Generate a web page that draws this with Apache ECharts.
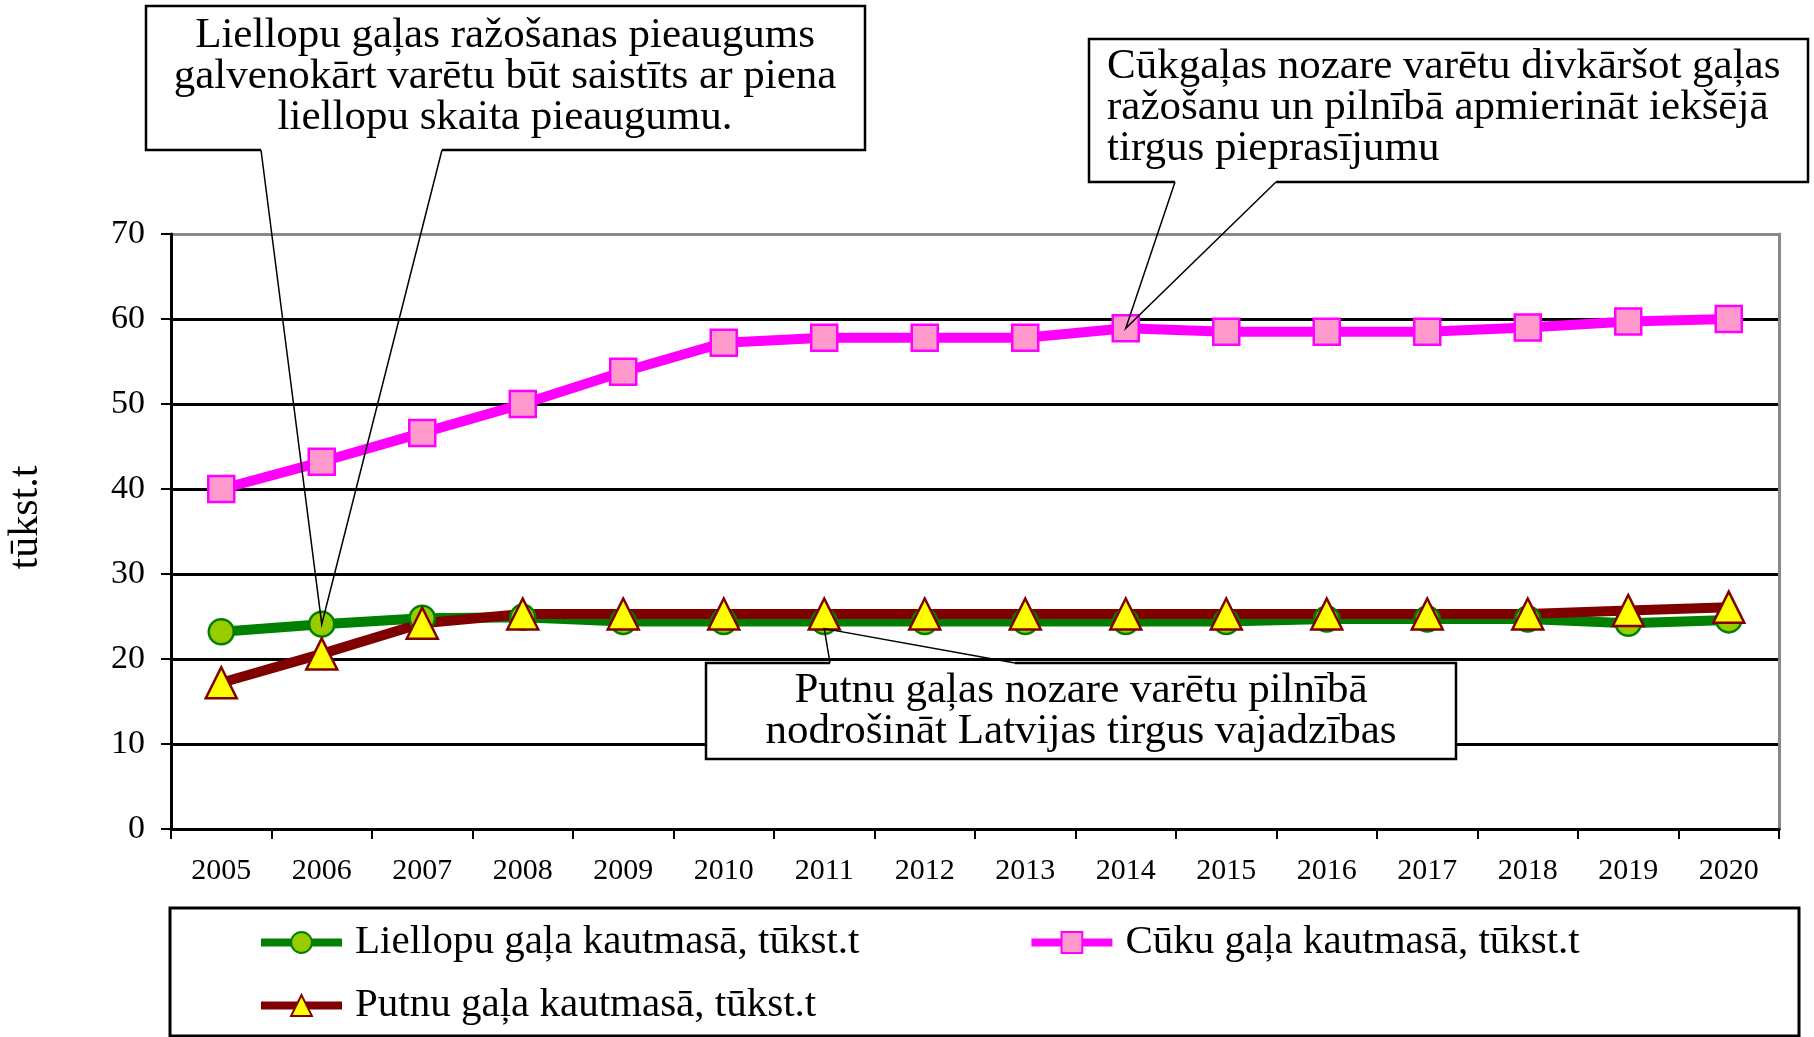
<!DOCTYPE html>
<html>
<head>
<meta charset="utf-8">
<script src="https://cdn.jsdelivr.net/npm/echarts@6/dist/echarts.min.js"></script>
<style>
  html, body { margin: 0; padding: 0; background: #fff; }
  #chart { width: 1814px; height: 1037px; }
</style>
</head>
<body>
<div id="chart"></div>
<script>
const years = ['2005', '2006', '2007', '2008', '2009', '2010', '2011', '2012',
  '2013', '2014', '2015', '2016', '2017', '2018', '2019', '2020']
const liellopu = [23.2, 24.1, 24.8, 24.9, 24.4, 24.4, 24.4, 24.4, 24.4, 24.4, 24.4, 24.7, 24.7, 24.7, 24.2, 24.6]
const cuku = [40.0, 43.2, 46.6, 50.0, 53.8, 57.2, 57.8, 57.8, 57.8, 58.9, 58.5, 58.5, 58.5, 59.0, 59.7, 60.0]
const putnu = [17.2, 20.6, 24.2, 25.3, 25.3, 25.3, 25.3, 25.3, 25.3, 25.3, 25.3, 25.3, 25.3, 25.3, 25.7, 26.1]
const names = ['Liellopu gaļa kautmasā, tūkst.t', 'Cūku gaļa kautmasā, tūkst.t', 'Putnu gaļa kautmasā, tūkst.t']
const notes = [
  'Liellopu gaļas ražošanas pieaugums\ngalvenokārt varētu būt saistīts ar piena\nliellopu skaita pieaugumu.',
  'Cūkgaļas nozare varētu divkāršot gaļas\nražošanu un pilnībā apmierināt iekšējā\ntirgus pieprasījumu',
  'Putnu gaļas nozare varētu pilnībā\nnodrošināt Latvijas tirgus vajadzības'
]

const font = "'Liberation Serif', 'Times New Roman', serif"
const chart = echarts.init(document.getElementById('chart'))

const legendText = { fontFamily: font, fontSize: 41, color: '#000', padding: [0, 0, 0, 8] }

chart.setOption({
  animation: false,
  backgroundColor: '#fff',
  textStyle: { fontFamily: font, color: '#000' },
  grid: { left: 171, right: 35, top: 234, bottom: 208, containLabel: false, outerBoundsMode: 'none' },
  legend: [
    {
      data: [names[0], names[1]],
      left: 252,
      top: 917,
      itemWidth: 81,
      itemHeight: 26,
      itemGap: 168,
      lineStyle: { width: 8 },
      textStyle: legendText
    },
    {
      data: [names[2]],
      left: 252,
      top: 980,
      itemWidth: 81,
      itemHeight: 26,
      lineStyle: { width: 8 },
      textStyle: legendText
    }
  ],
  xAxis: {
    type: 'category',
    data: years,
    boundaryGap: true,
    axisLine: { lineStyle: { color: '#000', width: 3 } },
    axisTick: { show: true, length: 10, lineStyle: { color: '#000', width: 2 } },
    axisLabel: { interval: 0, fontFamily: font, fontSize: 30, color: '#000', margin: 27 },
    splitLine: { show: false }
  },
  yAxis: [
    {
      type: 'value',
      min: 0,
      max: 70,
      interval: 10,
      name: 'tūkst.t',
      nameLocation: 'middle',
      nameGap: 124,
      nameRotate: 90,
      nameTextStyle: { fontFamily: font, fontSize: 42, color: '#000', padding: [0, 0, 0, 28] },
      axisLine: { show: true, lineStyle: { color: '#000', width: 3 } },
      axisTick: { show: true, length: 10, lineStyle: { color: '#000', width: 2 } },
      axisLabel: { fontFamily: font, fontSize: 34, color: '#000', margin: 26 },
      splitLine: {
        lineStyle: {
          color: ['#000', '#000', '#000', '#000', '#000', '#000', '#000', '#888'],
          width: 3
        }
      }
    },
    {
      type: 'value',
      position: 'right',
      min: 0,
      max: 70,
      interval: 10,
      axisLine: { show: true, lineStyle: { color: '#888', width: 3 } },
      axisTick: { show: false },
      axisLabel: { show: false },
      splitLine: { show: false }
    }
  ],
  series: [
    {
      name: names[0],
      type: 'line',
      data: liellopu,
      symbol: 'circle',
      symbolSize: 25,
      lineStyle: { color: '#008000', width: 10 },
      itemStyle: { color: '#99cc00', borderColor: '#008000', borderWidth: 2.5 }
    },
    {
      name: names[1],
      type: 'line',
      data: cuku,
      symbol: 'rect',
      symbolSize: 26,
      lineStyle: { color: '#ff00ff', width: 10 },
      itemStyle: { color: '#ff99cc', borderColor: '#ff00ff', borderWidth: 2.5 }
    },
    {
      name: names[2],
      type: 'line',
      data: putnu,
      symbol: 'triangle',
      symbolSize: [31, 31],
      lineStyle: { color: '#800000', width: 10 },
      itemStyle: { color: '#ffff00', borderColor: '#800000', borderWidth: 2.5 }
    }
  ]
})

// callout boxes: box [x1, y1, x2, y2], wedge base xs, wedge tip from data point
const tip1 = chart.convertToPixel({ seriesIndex: 0 }, [years[1], liellopu[1]])
const tip2 = chart.convertToPixel({ seriesIndex: 1 }, [years[9], cuku[9]])
const tip3 = chart.convertToPixel({ seriesIndex: 0 }, [years[6], liellopu[6]])
tip3[1] += 7

function callout(box, baseL, baseR, tip, onTop) {
  const [x1, y1, x2, y2] = box
  const by = onTop ? y1 : y2
  const outline = onTop
    ? [[baseL, y1], [x1, y1], [x1, y2], [x2, y2], [x2, y1], [baseR, y1]]
    : [[baseL, y2], [x1, y2], [x1, y1], [x2, y1], [x2, y2], [baseR, y2]]
  return [
    { type: 'rect', shape: { x: x1, y: y1, width: x2 - x1, height: y2 - y1 }, style: { fill: '#fff' }, z: 100 },
    { type: 'polyline', shape: { points: outline }, style: { stroke: '#000', lineWidth: 2.5, fill: null }, z: 101 },
    { type: 'polyline', shape: { points: [[baseL, by], tip, [baseR, by]] }, style: { stroke: '#000', lineWidth: 1.5, fill: null }, z: 101 }
  ]
}

function note(text, x, y, align) {
  return {
    type: 'text', x: x, y: y, z: 102,
    style: { text: text, align: align, verticalAlign: 'middle', fontFamily: font, fontSize: 43, lineHeight: 41, fill: '#000' }
  }
}

chart.setOption({
  graphic: [
    ...callout([146, 6, 865, 150], 261, 442, tip1, false),
    ...callout([1089, 39, 1808, 182], 1175, 1276, tip2, false),
    ...callout([706, 663, 1456, 759], 830, 1015, tip3, true),
    note(notes[0], 505, 77, 'center'),
    note(notes[1], 1107, 108, 'left'),
    note(notes[2], 1081, 711, 'center'),
    { type: 'rect', shape: { x: 170, y: 908, width: 1629, height: 128 }, style: { fill: null, stroke: '#000', lineWidth: 3 }, z: 90 }
  ]
})
</script>
</body>
</html>
